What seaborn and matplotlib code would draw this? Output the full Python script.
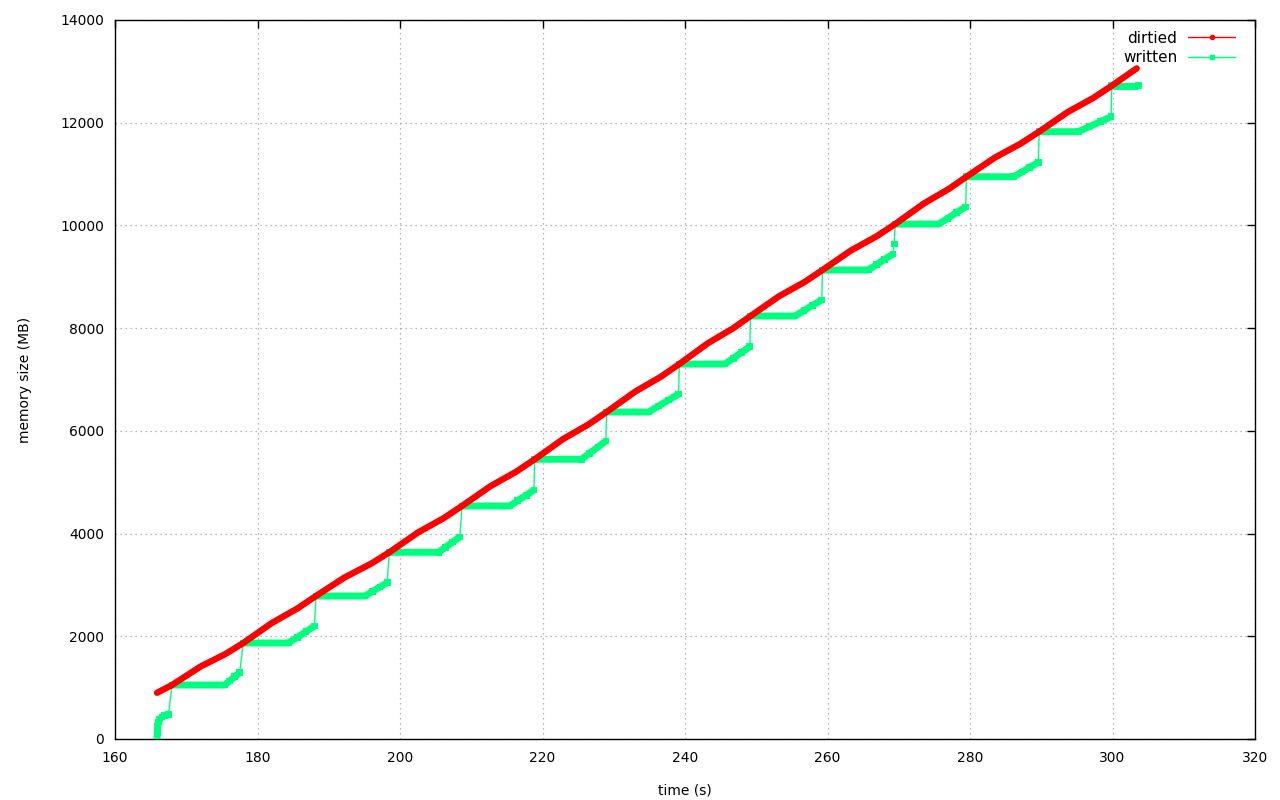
import numpy as np
import pandas as pd
import matplotlib
matplotlib.use("Agg")
import matplotlib.pyplot as plt
from matplotlib.lines import Line2D
import seaborn as sns

# dirtied memory (MB) over time (s)
dirtied_t = [165.9, 168.0, 172.0, 175.5, 178.0, 182.0, 185.6, 188.2, 192.2, 196.0,
             198.5, 202.5, 206.1, 208.7, 212.7, 216.3, 218.9, 222.9, 226.5, 229.0,
             233.0, 236.6, 239.2, 243.2, 246.8, 249.2, 253.2, 256.8, 259.3, 263.3,
             266.9, 269.5, 273.5, 277.1, 279.5, 283.5, 287.1, 289.7, 293.7, 297.3,
             299.9, 303.4]
dirtied_mb = [900, 1051, 1410, 1655, 1869, 2258, 2541, 2784, 3144, 3418,
              3635, 4019, 4297, 4537, 4923, 5204, 5446, 5841, 6129, 6367,
              6763, 7053, 7301, 7705, 8001, 8236, 8621, 8900, 9132, 9513,
              9789, 10027, 10425, 10717, 10948, 11322, 11592, 11825, 12206, 12482,
              12720, 13058]

# written memory (MB) over time (s)
written_t = [165.9, 165.95, 166.0, 166.1, 166.3, 166.6, 167.0, 167.5,
             168.0, 175.4, 176.1, 176.8, 177.5,
             178.0, 184.3, 185.6, 186.8, 188.0,
             188.2, 195.1, 196.1, 197.2, 198.2,
             198.5, 205.4, 206.4, 207.4, 208.4,
             208.7, 215.4, 216.5, 217.7, 218.8,
             218.9, 225.5, 226.6, 227.8, 228.9,
             229.0, 234.9, 236.3, 237.7, 239.1,
             239.2, 245.6, 246.8, 247.9, 249.1,
             249.2, 255.4, 256.7, 257.9, 259.2,
             259.3, 265.7, 266.9, 268.0, 269.2, 269.35,
             269.5, 275.6, 276.9, 278.1, 279.4,
             279.5, 286.1, 287.3, 288.4, 289.6,
             289.7, 295.2, 296.7, 298.3, 299.8,
             299.9, 303.6]
written_mb = [0, 120, 240, 330, 390, 430, 450, 470,
              1051, 1051, 1130, 1210, 1290,
              1869, 1869, 1980, 2090, 2200,
              2784, 2784, 2870, 2960, 3043,
              3635, 3635, 3735, 3835, 3935,
              4537, 4537, 4640, 4745, 4848,
              5446, 5446, 5565, 5685, 5803,
              6367, 6367, 6485, 6600, 6717,
              7301, 7301, 7415, 7525, 7637,
              8236, 8236, 8340, 8445, 8548,
              9132, 9132, 9235, 9340, 9443, 9638,
              10027, 10027, 10140, 10250, 10360,
              10948, 10948, 11040, 11135, 11229,
              11825, 11825, 11920, 12020, 12117,
              12720, 12720]

xticks = [160, 180, 200, 220, 240, 260, 280, 300, 320]
yticks = [0, 2000, 4000, 6000, 8000, 10000, 12000, 14000]

RED = "#ff0000"
GREEN = "#00ff7f"

sns.set_style("white")
plt.rcParams['font.family'] = ['DejaVu Sans']
plt.rcParams['text.color'] = 'black'
plt.rcParams['axes.labelcolor'] = 'black'

df_d = pd.DataFrame({"t": dirtied_t, "mb": dirtied_mb})
df_w = pd.DataFrame({"t": written_t, "mb": written_mb})
# break the dense band where the writer jumps up to catch the dirtied value
df_w["seg"] = np.concatenate([[0], np.cumsum(np.diff(df_w["mb"]) > 150)])

fig = plt.figure(figsize=(12.8, 8), dpi=100)
ax = fig.add_axes([115 / 1280, 61 / 800, 1140 / 1280, 719 / 800])

sns.lineplot(data=df_w, x="t", y="mb", sort=False, estimator=None, color=GREEN,
             lw=1, ax=ax, legend=False)
sns.lineplot(data=df_w, x="t", y="mb", units="seg", sort=False, estimator=None,
             color=GREEN, lw=5, solid_capstyle="butt", ax=ax, legend=False)
sns.scatterplot(data=df_w, x="t", y="mb", marker="s", s=24, color=GREEN,
                edgecolor="none", ax=ax, legend=False, zorder=3)
sns.lineplot(data=df_d, x="t", y="mb", sort=False, estimator=None, color=RED,
             lw=4.6, solid_capstyle="round", solid_joinstyle="round", ax=ax,
             legend=False, zorder=4)

ax.set_xlim(160, 320)
ax.set_ylim(0, 14000)
ax.set_xticks(xticks)
ax.set_yticks(yticks)
ax.tick_params(direction="in", length=6, width=1, top=True, right=True,
               labelsize=10, colors="black")
ax.tick_params(axis="x", pad=9)
ax.tick_params(axis="y", pad=8)
ax.grid(True, color="#a0a0a0", linestyle=(0, (1, 3)), lw=0.9)
for sp in ax.spines.values():
    sp.set_color("black")
    sp.set_linewidth(1)
ax.set_xlabel("time (s)", fontsize=10, labelpad=13)
ax.set_ylabel("memory size (MB)", fontsize=10, labelpad=20)

handles = [Line2D([], [], color=RED, lw=1, marker="o", markersize=3),
           Line2D([], [], color=GREEN, lw=1, marker="s", markersize=3.5)]
ax.legend(handles, ["dirtied", "written"], loc="upper right", frameon=False,
          bbox_to_anchor=(1 - 9 / 1140, 1), markerfirst=False, handlelength=3.1,
          fontsize=11, borderaxespad=0.3, labelspacing=0.3, handletextpad=0.7)

fig.savefig("out.png", dpi=100)
